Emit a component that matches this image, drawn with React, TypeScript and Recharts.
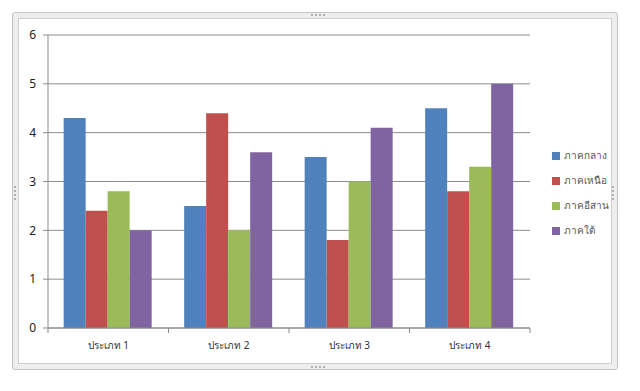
import React from "react"
import { BarChart, Bar, XAxis, YAxis, CartesianGrid } from "recharts"

const categories = ["ประเภท 1", "ประเภท 2", "ประเภท 3", "ประเภท 4"]
const central = [4.3, 2.5, 3.5, 4.5]
const north = [2.4, 4.4, 1.8, 2.8]
const northeast = [2.8, 2.0, 3.0, 3.3]
const south = [2.0, 3.6, 4.1, 5.0]
const yTicks = [0, 1, 2, 3, 4, 5, 6]

const series = [
  { key: "ภาคกลาง", values: central, color: "#4F81BD" },
  { key: "ภาคเหนือ", values: north, color: "#C0504D" },
  { key: "ภาคอีสาน", values: northeast, color: "#9BBB59" },
  { key: "ภาคใต้", values: south, color: "#8064A2" },
]

const data = categories.map((name, i) => {
  const row: Record<string, string | number> = { name }
  series.forEach((s) => (row[s.key] = s.values[i]))
  return row
})

const font = "'Noto Sans', 'DejaVu Sans', sans-serif"

function CategoryTick(props: any) {
  const { x, y, payload, index, visibleTicksCount } = props
  const half = payload.offset ?? 60
  const last = index === (visibleTicksCount ?? categories.length) - 1
  return (
    <g>
      <line x1={x - half} x2={x - half} y1={y - 8} y2={y - 3} stroke="#8c8c8c" />
      {last && <line x1={x + half} x2={x + half} y1={y - 8} y2={y - 3} stroke="#8c8c8c" />}
      <text x={x} y={y + 13} textAnchor="middle" fontSize={10} fill="#333" fontFamily={font}>
        {payload.value}
      </text>
    </g>
  )
}

function LegendBox() {
  return (
    <div style={{ position: "absolute", left: 552, top: 143, fontFamily: font, fontSize: 10, color: "#555" }}>
      {series.map((s) => (
        <div key={s.key} style={{ display: "flex", alignItems: "center", height: 25 }}>
          <span style={{ width: 8, height: 8, background: s.color, marginRight: 4, display: "inline-block" }} />
          {s.key}
        </div>
      ))}
    </div>
  )
}

// little grip dots on the selection frame
function Grip({ left, top, vertical }: { left: number; top: number; vertical?: boolean }) {
  return (
    <div
      style={{
        position: "absolute",
        left,
        top,
        display: "flex",
        flexDirection: vertical ? "column" : "row",
        gap: 2,
      }}
    >
      {[0, 1, 2, 3].map((i) => (
        <span key={i} style={{ width: 2, height: 2, background: "#b0b0b0", display: "block" }} />
      ))}
    </div>
  )
}

export default function App() {
  return (
    <div style={{ position: "absolute", left: 0, top: 0, width: 640, height: 391, background: "#fff" }}>
      <div
        style={{
          position: "absolute",
          left: 12,
          top: 12,
          width: 604,
          height: 356,
          border: "1px solid #c4c4c4",
          borderRadius: 3,
          background: "#eeeeee",
        }}
      >
        <div
          style={{
            position: "absolute",
            left: 5,
            top: 5,
            right: 5,
            bottom: 5,
            border: "1px solid #cfcfcf",
            background: "#fff",
          }}
        />
      </div>
      <Grip left={311} top={14} />
      <Grip left={311} top={366} />
      <Grip left={14} top={186} vertical />
      <Grip left={612} top={186} vertical />
      <div style={{ position: "absolute", left: 0, top: 0 }}>
        <BarChart
          width={640}
          height={391}
          data={data}
          margin={{ top: 35, right: 110, bottom: 33, left: 0 }}
          barCategoryGap="13%"
          barGap={0}
        >
          <CartesianGrid vertical={false} stroke="#8c8c8c" />
          <XAxis
            dataKey="name"
            height={30}
            axisLine={{ stroke: "#8c8c8c" }}
            tickLine={false}
            tick={<CategoryTick />}
            interval={0}
          />
          <YAxis
            width={48}
            domain={[0, 6]}
            ticks={yTicks}
            axisLine={{ stroke: "#8c8c8c" }}
            tickLine={{ stroke: "#8c8c8c" }}
            tickSize={5}
            tickMargin={7}
            tick={{ fontSize: 12, fill: "#222", fontFamily: font }}
          />
          {series.map((s) => (
            <Bar key={s.key} dataKey={s.key} fill={s.color} isAnimationActive={false} />
          ))}
        </BarChart>
      </div>
      <LegendBox />
    </div>
  )
}
